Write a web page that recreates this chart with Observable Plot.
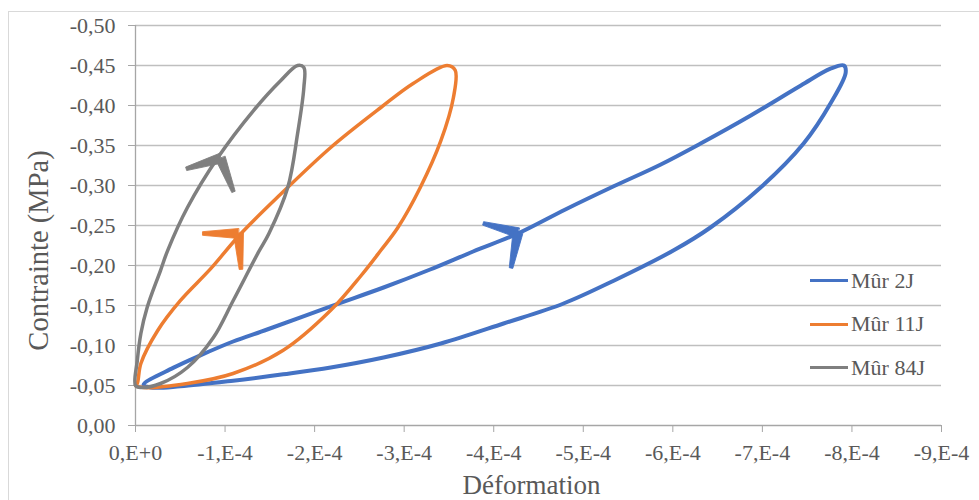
<!DOCTYPE html>
<html><head><meta charset="utf-8">
<script src="https://cdn.jsdelivr.net/npm/d3@7"></script>
<script src="https://cdn.jsdelivr.net/npm/@observablehq/plot@0.6"></script>
<style>
body{margin:0;background:#fff;}
#wrap{position:relative;width:979px;height:500px;overflow:hidden;font-family:"Liberation Serif","DejaVu Serif",serif;}
#frame{position:absolute;left:8px;top:11px;width:990px;height:520px;border-left:1.5px solid #D9D9D9;border-top:1.5px solid #D9D9D9;}
#chart{position:absolute;left:0;top:0;}
#legend{position:absolute;left:810px;top:259px;}
.item{display:flex;align-items:center;height:43.5px;font-size:22px;color:#595959;font-family:"Liberation Serif","DejaVu Serif",serif;}
.swatch{width:38px;height:3px;margin-right:3px;}
</style></head><body>
<div id="wrap"><div id="frame"></div><div id="chart"></div><div id="legend"></div></div>
<script>
// ---- data ----
const seriesNames = ["Mûr 2J", "Mûr 11J", "Mûr 84J"];
const seriesColors = ["#4472C4", "#ED7D31", "#7F7F7F"];
const seriesWidths = [4, 3.5, 3.5];
const strainUnit = 1e-4; // strains below are in units of 1E-4

const blueStrain = [-0.09,-0.42,-0.73,-1.09,-1.47,-2.18,-2.77,-3.29,-3.77,-4.27,-4.80,-5.34,-5.86,-6.31,-6.87,-7.43,-7.76,-7.91,
  -7.93,-7.76,-7.46,-6.98,-6.42,-6.01,-5.34,-4.78,-4.11,-3.41,-2.77,-2.18,-1.65,-1.09,-0.50,-0.17];
const blueStress = [-0.051,-0.072,-0.088,-0.105,-0.120,-0.149,-0.1725,-0.195,-0.2175,-0.240,-0.270,-0.299,-0.326,-0.3525,-0.3875,-0.425,-0.446,-0.450,
  -0.441,-0.4025,-0.3525,-0.2975,-0.2475,-0.219,-0.181,-0.1525,-0.1275,-0.1025,-0.085,-0.0725,-0.064,-0.056,-0.049,-0.0475];

const orangeStrain = [0,-0.02,-0.06,-0.25,-0.50,-0.84,-1.17,-1.62,-2.18,-2.74,-3.10,-3.48,-3.57,
  -3.55,-3.41,-3.18,-2.93,-2.74,-2.52,-2.18,-1.65,-1.09,-0.58,-0.09];
const orangeStress = [-0.05,-0.0525,-0.0775,-0.119,-0.156,-0.196,-0.239,-0.289,-0.3475,-0.3975,-0.4275,-0.45,-0.444,
  -0.41,-0.356,-0.2975,-0.2475,-0.219,-0.1875,-0.144,-0.094,-0.065,-0.0525,-0.0475];

const grayStrain = [0,-0.02,-0.06,-0.13,-0.28,-0.36,-0.58,-0.92,-1.32,-1.62,-1.81,-1.88,
  -1.88,-1.81,-1.70,-1.49,-1.37,-1.09,-0.87,-0.58,-0.28,-0.06];
const grayStress = [-0.05,-0.081,-0.115,-0.1475,-0.194,-0.219,-0.2725,-0.335,-0.394,-0.431,-0.45,-0.4475,
  -0.4225,-0.365,-0.2975,-0.24,-0.216,-0.156,-0.11,-0.0725,-0.0525,-0.0475];

// direction arrows (chevrons) on the loading branches
const arrowSeries = ["Mûr 2J", "Mûr 11J", "Mûr 84J"];
const arrowStrain = [-4.27, -1.15, -0.95];
const arrowStress = [-0.241, -0.24, -0.334];
const arrowAngle = [58, 43, 26];

const yTicks = [0, -0.05, -0.10, -0.15, -0.20, -0.25, -0.30, -0.35, -0.40, -0.45, -0.50];
const yTickLabels = ["0,00","-0,05","-0,10","-0,15","-0,20","-0,25","-0,30","-0,35","-0,40","-0,45","-0,50"];
const xTicks = [0,-1e-4,-2e-4,-3e-4,-4e-4,-5e-4,-6e-4,-7e-4,-8e-4,-9e-4];
const xTickLabels = ["0,E+0","-1,E-4","-2,E-4","-3,E-4","-4,E-4","-5,E-4","-6,E-4","-7,E-4","-8,E-4","-9,E-4"];
const xTitle = "Déformation";
const yTitle = "Contrainte (MPa)";

// ---- tables ----
function loop(name, xs, ys) { return xs.map((x, i) => ({series: name, strain: x * strainUnit, stress: ys[i]})); }
const loops = [
  loop(seriesNames[0], blueStrain, blueStress),
  loop(seriesNames[1], orangeStrain, orangeStress),
  loop(seriesNames[2], grayStrain, grayStress)
];
const arrows = arrowSeries.map((s, i) => ({series: s, strain: arrowStrain[i] * strainUnit, stress: arrowStress[i], angle: arrowAngle[i]}));

const chevron = {
  draw(ctx, l, r) {
    const a = 47 * Math.PI / 180;
    const w0 = 5, w1 = 1.8;
    for (const s of [-1, 1]) {
      const dx = s * Math.sin(a), dy = Math.cos(a);
      const nx = -dy, ny = dx;
      ctx.moveTo(nx * w0, ny * w0);
      ctx.lineTo(dx * l + nx * w1, dy * l + ny * w1);
      ctx.lineTo(dx * l - nx * w1, dy * l - ny * w1);
      ctx.lineTo(-nx * w0, -ny * w0);
      ctx.closePath();
    }
  }
};

const fmt = (ticks, labels) => d => { const i = ticks.findIndex(t => Math.abs(t - d) < 1e-12); return i >= 0 ? labels[i] : ""; };
const serif = "\"Liberation Serif\", \"DejaVu Serif\", serif";

const chart = Plot.plot({
  width: 979, height: 500,
  marginLeft: 135, marginRight: 38, marginTop: 25, marginBottom: 75,
  style: {fontFamily: serif, fontSize: "22px", background: "transparent", overflow: "visible"},
  x: {domain: [0, -9e-4], axis: null},
  y: {domain: [0, -0.5], axis: null},
  color: {domain: seriesNames, range: seriesColors},
  marks: [
    Plot.gridY(yTicks.filter(d => d !== 0), {stroke: "#BFBFBF", strokeOpacity: 1, strokeWidth: 1.3}),
    Plot.ruleY([0], {stroke: "#A6A6A6", strokeWidth: 1.3}),
    Plot.ruleX([0], {stroke: "#A6A6A6", strokeWidth: 1.3}),
    Plot.axisY(yTicks, {tickSize: 7, tickPadding: 13, stroke: "#A6A6A6", fill: "#595959", tickFormat: fmt(yTicks, yTickLabels), label: null, fontSize: 22, fontFamily: serif}),
    Plot.axisX(xTicks, {tickSize: 7, tickPadding: 12, stroke: "#A6A6A6", fill: "#595959", tickFormat: fmt(xTicks, xTickLabels), label: null, fontSize: 22, fontFamily: serif}),
    ...loops.map((data, i) => Plot.line(data, {x: "strain", y: "stress", stroke: "series", strokeWidth: seriesWidths[i], curve: "catmull-rom-closed"})),
    Plot.vector(arrows, {x: "strain", y: "stress", rotate: "angle", length: 36, anchor: "start", shape: chevron, stroke: "series", fill: "series", strokeWidth: 0.8}),
    Plot.text([xTitle], {text: d => d, frameAnchor: "bottom", textAnchor: "middle", dx: -7, dy: 68, fontSize: 27, fill: "#595959", fontFamily: serif}),
    Plot.text([yTitle], {text: d => d, frameAnchor: "left", textAnchor: "middle", dx: -97, dy: 25, rotate: -90, fontSize: 28.5, fill: "#595959", fontFamily: serif})
  ]
});
document.getElementById("chart").appendChild(chart);

const legend = document.getElementById("legend");
seriesNames.forEach((name, i) => {
  const item = document.createElement("div");
  item.className = "item";
  const sw = document.createElement("span");
  sw.className = "swatch";
  sw.style.background = seriesColors[i];
  const label = document.createElement("span");
  label.textContent = name;
  item.appendChild(sw); item.appendChild(label);
  legend.appendChild(item);
});
</script></body></html>
